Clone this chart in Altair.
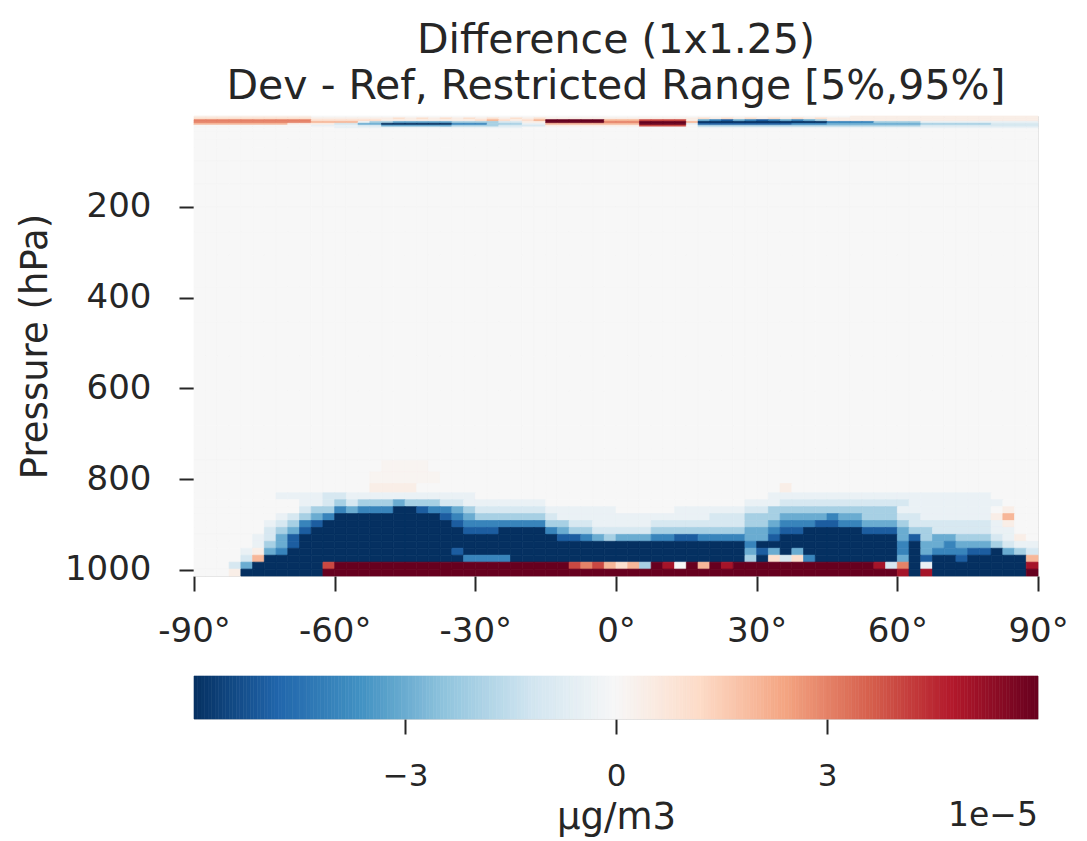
import altair as alt
import pandas as pd
import numpy as np

# ---------------- data ----------------
LAT_START = -90.0
LAT_STEP = 2.5          # 72 latitude bands
N_LAT = 72

# pressure edges (hPa), top to bottom
P_EDGES = [0, 4, 8, 12, 16, 20, 24, 28, 35, 50, 70, 100, 150, 200, 255.11,
           306.54, 376.60, 453.0, 529.39, 605.80, 682.21, 733.15, 758.61,
           784.08, 809.55, 829.92, 845.21, 860.49, 875.77, 891.05, 906.34,
           921.62, 936.91, 952.19, 967.47, 982.76, 998.05, 1013.25]

# value codes in units of 1e-5 ug/m3
CODE = {"A": -6, "B": -5, "C": -4, "D": -3, "E": -2, "F": -1, "G": -0.4,
        ".": 0, "h": 0.15, "g": 0.4, "f": 1, "e": 2, "d": 3, "c": 4, "b": 5, "a": 6}

# rows near the model top (0-35 hPa)
ROWS_TOP = [
    "g" * 10 + "." * 46 + "g" * 16,
    "f" * 10 + "g" * 6 + "gfgfgfgfgfgfgf" + "g" * 5 + "g" * 8 + "fgfgfgfgfgf" + "g" * 18,
    "d" * 10 + "f" * 6 + "g" * 8 + "fefgfe" + "a" * 5 + "e" * 3 + "c" * 4 + "g" + "DCBDCBCDCDE" + "g" * 18,
    "d" * 10 + "e" * 4 + "G" + "EE" + "DDDDD" + "EEEE" + "FF" + "gg" + "aaaaa" + "ddd" + "aaaa" + "e" + "A" * 11 + "CCCC" + "EEEE" + "G" * 10,
    "e" * 8 + "g" * 4 + "FF" + "DD" + "AAAAAA" + "CCC" + "EEE" + "GG" + "eeeee" + "eee" + "aaaa" + "G" + "B" * 8 + "CCC" + "DDDD" + "DDDD" + "EEEEEE" + "FFFF",
    "." * 10 + "GGGG" + "FF" + "DDDDDD" + "EEEE" + "FFFF" + "g" * 8 + "cccc" + "." + "E" * 11 + "E" * 8 + "F" * 10,
    "." * 12 + "G" * 16 + "." * 15 + "G" * 29,
    "." * 72,
]

# free troposphere rows (35-759 hPa): near zero everywhere
ROWS_MID = ["." * 72] * 14

# rows near the surface (759-1013 hPa), top to bottom
ROWS_SURFACE = [
    "." * 16 + "hhhh" + "." * 52,
    "." * 15 + "hhhhhh" + "." * 51,
    "." * 15 + "ggg" + "g" + "." * 17 + "." * 14 + "g" + "..." + "." * 18,
    "......." + "GGGG" + "FF" + "GGGGG" + "GGGGGG" + "." * 12 + "." * 13 + "GGGGG" + "G" * 14 + "....",
    "." * 9 + "GGFEFEEED" + "EEEFF" + "GGGGGGG" + "......" + "." * 11 + "GGG" + "FFFF" + "F" * 7 + "G" * 8 + "...",
    "." * 9 + "FEECDCCCA" + "ABCCDE" + "FFFFFF" + "GGGGGG" + "....." + "GGGGGG" + "FF" + "EEEEE" + "EEEEEE" + "GGGGGGGG" + ".g..",
    "......." + "GFEDC" + "AAAAAA" + "AAABCD" + "EEEEEE" + "F" + "GGGGG" + "GGGGGGGG" + "FFF" + "EEE" + "DDDD" + "CDDEEEFF" + "GGGGGG" + "ge..",
    "......" + "GFECB" + "AAAAAAA" + "AAAAB" + "CCCCCCC" + "EEFFGG" + "GGG" + "FFFFFFFF" + "EEDCCCB" + "BCCDDDE" + "FFFFFFF" + "Gg..",
    "......" + "FEDB" + "AAAAAAAA" + "AAAAA" + "BBB" + "AAAA" + "CDEEFF" + "FFF" + "EEEEEEEE" + "DDCBBAA" + "AAA" + "BBB" + "DEE" + "FFFFF" + "GG..",
    "....." + "GFDB" + "AAAAAAAAA" + "A" * 13 + "BBCDE" + "DDDCCBBCCCCDDB" + "AAAA" + "AAAAAA" + "DBEDDEEEFGg.",
    "....." + "GEDB" + "A" * 9 + "A" * 18 + "A" * 11 + "C" + "A" * 6 + "AAAAAA" + "CADDCDDDEFGG",
    "...." + "GgDC" + "A" * 10 + "AAAAB" + "A" * 13 + "A" * 11 + "DBDADAA" + "AAAAAA" + "CADCCCBBADEF",
    "...." + "Fe" + "A" * 12 + "AAAAA" + "CCCC" + "A" * 9 + "A" * 11 + "EAfFfCA" + "AAAAAA" + "DABAAB" + "AAAAA" + "e",
    "...FD" + "AAAAAA" + "c" + "aaaaaa" + "a" * 14 + "cdce" + "feEab.aeab" + "a" * 8 + "aaaa" + "bFdAG" + "A" * 8 + "b",
    "...g" + "AAAAAAA" + "aaaaaaa" + "a" * 18 + "a" * 18 + "aaaaaa" + "bAb" + "A" * 8 + "a",
]

ROWS = ROWS_TOP + ROWS_MID + ROWS_SURFACE

X_TICKS = [-90, -60, -30, 0, 30, 60, 90]
Y_TICKS = [200, 400, 600, 800, 1000]
CB_TICKS = [-3e-5, 0, 3e-5]
CB_RANGE = [-6e-5, 6e-5]

# RdBu_r colormap anchors
CMAP = ["#053061", "#2166ac", "#4393c3", "#92c5de", "#d1e5f0", "#f7f7f7",
        "#fddbc7", "#f4a582", "#d6604d", "#b2182b", "#67001f"]

TITLE = ["Difference (1x1.25)", "Dev - Ref, Restricted Range [5%,95%]"]

# ---------------- table ----------------
recs = []
for k, row in enumerate(ROWS):
    assert len(row) == N_LAT, (k, len(row))
    for j, ch in enumerate(row):
        lat0 = LAT_START + j * LAT_STEP
        recs.append({"lat0": lat0, "lat1": lat0 + LAT_STEP,
                     "p0": P_EDGES[k], "p1": P_EDGES[k + 1],
                     "v": CODE[ch] * 1e-5})
df = pd.DataFrame(recs)

n_cb = 240
cb_edges = np.linspace(CB_RANGE[0], CB_RANGE[1], n_cb + 1)
cb = pd.DataFrame({"lo": cb_edges[:-1], "hi": cb_edges[1:],
                   "mid": (cb_edges[:-1] + cb_edges[1:]) / 2})

INK = "#262626"
FONT = "DejaVu Sans"
cmap_domain = list(np.linspace(CB_RANGE[0], CB_RANGE[1], len(CMAP)))
cscale = alt.Scale(domain=cmap_domain, range=CMAP, interpolate="rgb", clamp=True)

heat = alt.Chart(df).mark_rect(strokeWidth=0.7).encode(
    x=alt.X("lat0:Q", scale=alt.Scale(domain=[-90, 90], nice=False, zero=False),
            axis=alt.Axis(values=X_TICKS, labelExpr="datum.value + '°'", title=None,
                          labelFontSize=34, labelPadding=23, tickSize=15, tickWidth=2,
                          tickColor=INK, labelColor=INK, domain=False, grid=False,
                          labelFont=FONT, labelFlush=False, labelOverlap=False)),
    x2="lat1:Q",
    y=alt.Y("p0:Q", scale=alt.Scale(domain=[0, 1013.25], reverse=True, nice=False, zero=False),
            axis=alt.Axis(values=Y_TICKS, format="d", title="Pressure (hPa)", titleFontSize=37,
                          titleFontWeight="normal", titleColor=INK, titlePadding=10,
                          labelFontSize=34, labelPadding=28, tickSize=15, tickWidth=2,
                          tickColor=INK, labelColor=INK, domain=False, grid=False,
                          labelFont=FONT, titleFont=FONT, labelFlush=False)),
    y2="p1:Q",
    color=alt.Color("v:Q", scale=cscale, legend=None),
    stroke=alt.Stroke("v:Q", scale=cscale, legend=None),
).properties(
    width=844, height=460,
    title=alt.TitleParams(TITLE, fontSize=41, fontWeight="normal", color=INK, font=FONT,
                          anchor="middle", frame="group", offset=8, lineHeight=46),
)

cbar = alt.Chart(cb).mark_rect(strokeWidth=0.6).encode(
    x=alt.X("lo:Q", scale=alt.Scale(domain=CB_RANGE, nice=False, zero=False),
            axis=alt.Axis(values=CB_TICKS, labelExpr="format(datum.value*1e5, 'd')",
                          title="µg/m3", titleFontSize=37, titleFontWeight="normal",
                          titleColor=INK, titlePadding=8, labelFontSize=31,
                          labelPadding=27, tickSize=15, tickWidth=2, tickColor=INK,
                          labelColor=INK, domain=False, grid=False, labelFont=FONT,
                          titleFont=FONT, labelFlush=False)),
    x2="hi:Q",
    color=alt.Color("mid:Q", scale=cscale, legend=None),
    stroke=alt.Stroke("mid:Q", scale=cscale, legend=None),
)

mult = alt.Chart(pd.DataFrame({"t": ["1e−5"]})).mark_text(
    align="right", baseline="middle", fontSize=33, font=FONT, color=INK
).encode(text="t:N", x=alt.value(844), y=alt.value(140))

cbar_layer = alt.layer(cbar, mult).properties(width=844, height=43)

chart = alt.vconcat(heat, cbar_layer, spacing=26).configure_view(
    stroke=INK, strokeWidth=2.5
).configure(font=FONT, background="white", padding={"left": 7, "top": 11, "right": 5, "bottom": 5})

chart.save("out.html", embed_options={"renderer": "svg", "actions": False})
